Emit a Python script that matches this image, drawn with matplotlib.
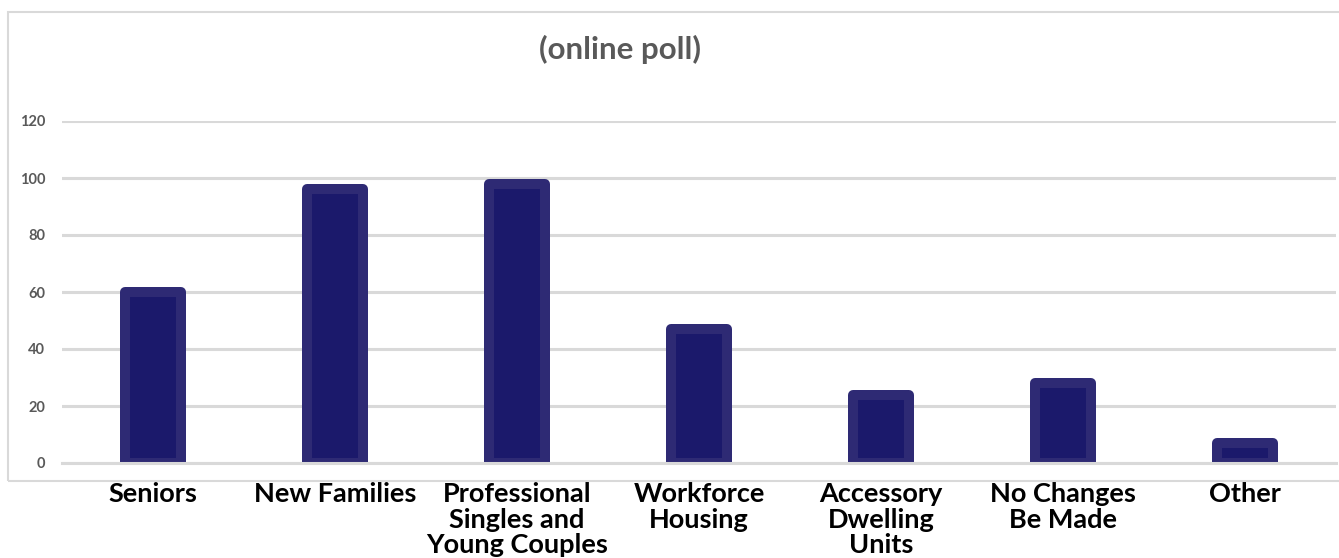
import numpy as np
import matplotlib
matplotlib.use("Agg")
import matplotlib.pyplot as plt
from matplotlib.patches import Rectangle

plt.rcParams['font.family'] = ['Lato', 'DejaVu Sans']

# poll responses per housing type
categories = ["Seniors", "New Families", "Professional\nSingles and\nYoung Couples",
              "Workforce\nHousing", "Accessory\nDwelling\nUnits", "No Changes\nBe Made", "Other"]
votes = [60, 96, 98, 47, 24, 28, 7]
yticks = [0, 20, 40, 60, 80, 100, 120]

fig = plt.figure(figsize=(13.39, 5.58), dpi=100)
ax = fig.add_axes([62/1339, 95/558, 1274/1339, 342/558])

# light frame around the chart area
fig.patches.append(Rectangle((8/1339, 77/558), 1.0, 469/558, transform=fig.transFigure,
                             fill=False, edgecolor='#d9d9d9', linewidth=1.5, zorder=0))

x = np.arange(len(categories))
bars = ax.bar(x, votes, width=0.31, color='#1b196b', edgecolor='#2e2a74',
              linewidth=7.2, zorder=3)
for b in bars:
    b.set_joinstyle('round')

ax.set_xlim(-0.5, len(categories) - 0.5)
ax.set_ylim(0, 120)
ax.set_yticks(yticks)
ax.set_yticklabels([str(t) for t in yticks], color='#595959', fontsize=10.5, fontweight='bold')
ax.set_xticks(x)
ax.set_xticklabels(categories, fontsize=19.5, fontweight='bold', color='black',
                   linespacing=1.06, va='top')
ax.tick_params(axis='both', length=0)
ax.tick_params(axis='y', pad=12)
ax.tick_params(axis='x', pad=14)

ax.grid(axis='y', color='#d9d9d9', linewidth=2.2, zorder=0)
ax.set_axisbelow(True)
for side in ['top', 'left', 'right']:
    ax.spines[side].set_visible(False)
ax.spines['bottom'].set_color('#d9d9d9')
ax.spines['bottom'].set_linewidth(2.2)
ax.spines['bottom'].set_zorder(4)

fig.text(620/1339, 1 - 49/558, "(online poll)", ha='center', va='center',
         fontsize=22.5, fontweight='bold', color='#595959')

fig.savefig("out.png", dpi=100)
